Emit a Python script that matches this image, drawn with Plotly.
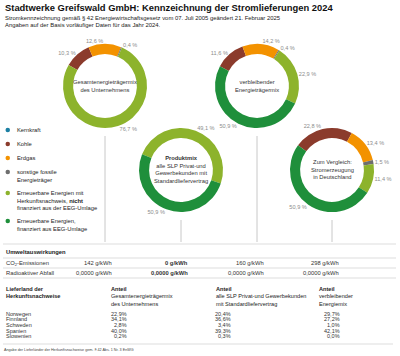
import plotly.graph_objects as go

W, H = 400, 356
FONT = "Liberation Sans, Arial, sans-serif"

# ---------------- data ----------------
categories = ["Kernkraft", "Kohle", "Erdgas", "sonstige fossile Energieträger",
              "Erneuerbare Energien mit Herkunftsnachweis, nicht finanziert aus der EEG-Umlage",
              "Erneuerbare Energien, finanziert aus EEG-Umlage"]
legend_labels = ["Kernkraft", "Kohle", "Erdgas", "sonstige fossile<br>Energieträger",
                 "Erneuerbare Energien mit<br>Herkunftsnachweis, <b>nicht</b><br>finanziert aus der EEG-Umlage",
                 "Erneuerbare Energien,<br>finanziert aus EEG-Umlage"]
colors = ["#1b7fa3", "#8b3b2c", "#f39200", "#6e6e6e", "#8db32c", "#1f8f3b"]

mix_unternehmen = [0, 10.3, 12.6, 0.4, 76.7, 0]
mix_verbleibend = [0, 11.6, 14.2, 0.4, 22.9, 50.9]
mix_produkt = [0, 0, 0, 0, 49.1, 50.9]
mix_deutschland = [0, 22.8, 13.4, 1.5, 11.4, 50.9]

umwelt_spalten = ["Gesamtenergieträgermix", "Produktmix", "verbleibender Energieträgermix", "Deutschland"]
co2_emissionen = [142, 0, 160, 298]
radioaktiver_abfall = [0.0, 0.0, 0.0, 0.0]

laender = ["Norwegen", "Finnland", "Schweden", "Spanien", "Slowenien"]
anteil_unternehmen = [22.9, 34.1, 2.8, 40.0, 0.2]
anteil_slp = [20.4, 36.6, 3.4, 39.3, 0.3]
anteil_verbleibend = [29.7, 27.2, 1.0, 42.1, 0.0]


def de(v, d=1):
    return f"{v:.{d}f}".replace(".", ",")


def X(px):
    return px / W


def Y(py):
    return 1 - py / H


annotations = []
shapes = []


def ann(px, py, text, size=5.8, xanchor="center", yanchor="middle", align=None,
        color="#222222"):
    annotations.append(dict(x=X(px), y=Y(py), xref="paper", yref="paper", text=text,
                            showarrow=False, xanchor=xanchor, yanchor=yanchor,
                            align=align or ("left" if xanchor == "left" else
                                            "right" if xanchor == "right" else "center"),
                            borderpad=0, font=dict(family=FONT, size=size, color=color)))


def hline(py, x0, x1, color="#dddddd"):
    shapes.append(dict(type="line", xref="paper", yref="paper", x0=X(x0), x1=X(x1),
                       y0=Y(py), y1=Y(py), line=dict(color=color, width=1)))


R = 42
pies = [
    dict(vals=mix_unternehmen, c=(105, 86), rot=-60,
         txt="Gesamtenergieträgermix<br>des Unternehmens"),
    dict(vals=mix_verbleibend, c=(257, 86), rot=-62,
         txt="verbleibender<br>Energieträgermix"),
    dict(vals=mix_produkt, c=(181, 170), rot=-68,
         txt="<b>Produktmix</b><br>alle SLP Privat-und<br>Gewerbekunden mit<br>Standardliefervertrag"),
    dict(vals=mix_deutschland, c=(332, 170), rot=-54,
         txt="Zum Vergleich:<br>Stromerzeugung<br>in Deutschland"),
]

fig = go.Figure()

for p in pies:
    cx, cy = p["c"]
    vals = [v if v > 0 else None for v in p["vals"]]
    fig.add_trace(go.Pie(
        labels=categories, values=vals, sort=False, direction="clockwise",
        rotation=p["rot"], hole=0.76,
        marker=dict(colors=colors, line=dict(width=0)),
        text=[f"{de(v)} %" for v in p["vals"]],
        textinfo="text", textposition="outside",
        outsidetextfont=dict(family=FONT, size=5.6, color="#8c8c8c"),
        domain=dict(x=[X(cx - R), X(cx + R)], y=[Y(cy + R), Y(cy - R)]),
        showlegend=False, hoverinfo="label+percent",
    ))
    ann(cx, cy, p["txt"], size=5.8, color="#333333")
    shapes.append(dict(type="line", xref="paper", yref="paper",
                       x0=X(cx), x1=X(cx), y0=Y(cy + R + 8), y1=Y(242),
                       line=dict(color="#c8c8c8", width=1)))

# title
ann(4, 7.5, "<b>Stadtwerke Greifswald GmbH: Kennzeichnung der Stromlieferungen 2024</b>",
    size=9.4, xanchor="left", color="#111111")
ann(4, 17.8, "Stromkennzeichnung gemäß § 42 Energiewirtschaftsgesetz vom 07. Juli 2005 geändert 21. Februar 2025",
    size=5.9, xanchor="left")
ann(4, 25.2, "Angaben auf der Basis vorläufiger Daten für das Jahr 2024.", size=5.9, xanchor="left")

# legend
legend_y = [130, 144, 158, 172, 193, 221]
for lab, col, ly in zip(legend_labels, colors, legend_y):
    shapes.append(dict(type="circle", xref="paper", yref="paper",
                       x0=X(5.5), x1=X(10.0), y0=Y(ly + 2.25), y1=Y(ly - 2.25),
                       fillcolor=col, line=dict(width=0)))
    ann(16, ly - 4.0, lab, size=5.8, xanchor="left", yanchor="top")

# Umweltauswirkungen
for yy in [244, 258, 268, 278]:
    hline(yy, 3, 396)
ann(5, 251.5, "<b>Umweltauswirkungen</b>", xanchor="left")
ann(5, 263.3, "CO<sub>2</sub>-Emissionen", xanchor="left", color="#333333")
ann(5, 273, "Radioaktiver Abfall", xanchor="left", color="#333333")
col_order = [0, 2, 1, 3]  # table columns sit under donuts D1, D3, D2, D4 (left to right)
for i, (co2, rad) in enumerate(zip(co2_emissionen, radioaktiver_abfall)):
    cx = pies[col_order[i]]["c"][0]
    t1 = f"{co2} g/kWh"
    t2 = f"{de(rad, 4)} g/kWh"
    if i == 1:
        t1, t2 = f"<b>{t1}</b>", f"<b>{t2}</b>"
    ann(cx + 8, 263.3, t1, xanchor="right", color="#333333")
    ann(cx + 8, 273, t2, xanchor="right", color="#333333")

# Herkunftsnachweise
ann(5, 285, "<b>Lieferland der<br>Herkunftsnachweise</b>", size=5.6, xanchor="left", yanchor="top")
col_heads = [(110, 128, "<b>Anteil</b><br>Gesamtenergieträgermix<br>des Unternehmens", anteil_unternehmen),
             (215, 232, "<b>Anteil</b><br>alle SLP Privat-und Gewerbekunden<br>mit Standardliefervertrag", anteil_slp),
             (318, 341, "<b>Anteil</b><br>verbleibender<br>Energiemix", anteil_verbleibend)]
for xl, xr, head, vals in col_heads:
    ann(xl, 285, head, size=5.6, xanchor="left", yanchor="top")
    for k, v in enumerate(vals):
        ann(xr, 313.8 + k * 5.6, f"{de(v)}%", size=5.5, xanchor="right", color="#333333")
for k, land in enumerate(laender):
    ann(5, 313.8 + k * 5.6, land, size=5.5, xanchor="left", color="#333333")
hline(344, 3, 393)
ann(3, 349.5, "Angabe der Lieferländer der Herkunftsnachweise gem. § 42 Abs. 1 Nr. 3 EnWG",
    size=3.7, xanchor="left", color="#444444")

fig.update_layout(width=W, height=H, margin=dict(l=0, r=0, t=0, b=0),
                  paper_bgcolor="white", plot_bgcolor="white",
                  annotations=annotations, shapes=shapes, showlegend=False)
fig.write_html("out.html", config={"displayModeBar": False},
               post_script="document.body.style.margin='0';document.body.style.overflow='hidden';")
